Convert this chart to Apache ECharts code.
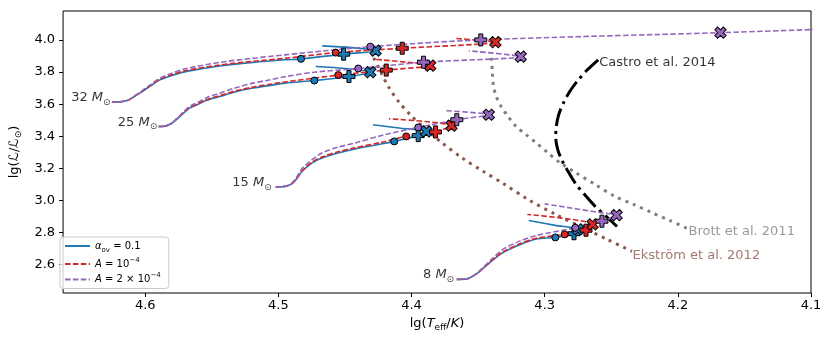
<!DOCTYPE html>
<html>
<head>
<meta charset="utf-8">
<script src="https://cdn.jsdelivr.net/npm/echarts@6/dist/echarts.min.js"></script>
<style>
  html, body { margin: 0; padding: 0; background: #fff; }
  #chart { width: 830px; height: 340px; }
</style>
</head>
<body>
<div id="chart"></div>
<script>
// 刻度
var xTicks = [4.1, 4.2, 4.3, 4.4, 4.5, 4.6];
var yTicks = [2.6, 2.8, 3.0, 3.2, 3.4, 3.6, 3.8, 4.0];

// 演化轨迹 [lg Teff, lg L]  (alpha_ov = 0.1)
var blue32 = [[4.625,3.613],[4.619,3.614],[4.613,3.624],[4.608,3.649],[4.602,3.680],[4.596,3.714],[4.589,3.751],[4.580,3.779],[4.569,3.804],[4.544,3.838],[4.519,3.860],[4.495,3.876],[4.483,3.882],[4.451,3.911],[4.427,3.933],[4.445,3.952],[4.467,3.963]];
var blue25 = [[4.590,3.461],[4.585,3.463],[4.580,3.481],[4.5755,3.512],[4.571,3.546],[4.567,3.574],[4.561,3.596],[4.554,3.624],[4.544,3.648],[4.532,3.677],[4.519,3.700],[4.506,3.717],[4.495,3.731],[4.473,3.747],[4.447,3.772],[4.431,3.799],[4.450,3.822],[4.472,3.834]];
var blue15 = [[4.502,3.085],[4.4975,3.086],[4.4953,3.088],[4.4908,3.099],[4.4871,3.127],[4.4821,3.182],[4.4747,3.234],[4.4673,3.265],[4.4552,3.296],[4.4425,3.321],[4.4227,3.352],[4.413,3.368],[4.395,3.404],[4.389,3.430],[4.408,3.450],[4.429,3.472]];
var blue8  = [[4.366,2.509],[4.3584,2.512],[4.3521,2.538],[4.3459,2.580],[4.3385,2.632],[4.3311,2.677],[4.3187,2.725],[4.3063,2.760],[4.292,2.770],[4.278,2.793],[4.275,2.820],[4.292,2.845],[4.312,2.876]];
// A = 1e-4
var red32 = [[4.625,3.613],[4.619,3.614],[4.613,3.624],[4.608,3.650],[4.602,3.682],[4.596,3.717],[4.589,3.755],[4.580,3.784],[4.569,3.810],[4.544,3.844],[4.519,3.867],[4.495,3.885],[4.457,3.921],[4.407,3.948],[4.337,3.986],[4.367,4.009]];
var red25 = [[4.590,3.461],[4.585,3.463],[4.580,3.482],[4.5755,3.514],[4.571,3.549],[4.567,3.577],[4.561,3.600],[4.554,3.628],[4.544,3.653],[4.532,3.683],[4.519,3.706],[4.506,3.724],[4.495,3.738],[4.455,3.781],[4.419,3.812],[4.386,3.840],[4.429,3.880]];
var red15 = [[4.502,3.085],[4.4975,3.086],[4.4953,3.088],[4.4908,3.100],[4.4871,3.129],[4.4821,3.185],[4.4747,3.239],[4.4673,3.271],[4.4552,3.303],[4.4425,3.328],[4.4227,3.362],[4.404,3.399],[4.382,3.427],[4.370,3.466],[4.417,3.509]];
var red8  = [[4.366,2.509],[4.3584,2.512],[4.3521,2.539],[4.3459,2.582],[4.3385,2.635],[4.3311,2.681],[4.3187,2.730],[4.3063,2.765],[4.285,2.789],[4.269,2.815],[4.264,2.851],[4.313,2.913]];
// A = 2e-4
var purple32 = [[4.625,3.613],[4.619,3.614],[4.613,3.625],[4.608,3.652],[4.602,3.686],[4.596,3.722],[4.589,3.762],[4.580,3.793],[4.569,3.822],[4.544,3.860],[4.519,3.886],[4.495,3.907],[4.465,3.932],[4.431,3.958],[4.348,4.000],[4.168,4.045],[4.09,4.067]];
var purple25 = [[4.590,3.461],[4.585,3.463],[4.580,3.483],[4.5755,3.517],[4.571,3.554],[4.567,3.584],[4.561,3.609],[4.554,3.640],[4.544,3.668],[4.532,3.702],[4.519,3.731],[4.506,3.752],[4.495,3.771],[4.473,3.799],[4.440,3.822],[4.391,3.861],[4.318,3.896],[4.357,3.932]];
var purple15 = [[4.502,3.085],[4.4975,3.086],[4.4953,3.088],[4.4908,3.102],[4.4871,3.135],[4.4821,3.200],[4.4747,3.254],[4.4673,3.296],[4.4552,3.332],[4.4425,3.358],[4.4202,3.410],[4.395,3.455],[4.366,3.503],[4.342,3.534],[4.374,3.559]];
var purple8  = [[4.366,2.509],[4.3584,2.512],[4.3521,2.540],[4.3459,2.586],[4.3385,2.645],[4.3311,2.697],[4.3187,2.747],[4.3063,2.782],[4.277,2.830],[4.257,2.871],[4.246,2.909],[4.257,2.923],[4.300,2.979]];

// 标记点
var blueCircles = [[4.483,3.882],[4.473,3.747],[4.413,3.368],[4.292,2.770]];
var bluePluses  = [[4.451,3.911],[4.447,3.772],[4.395,3.404],[4.278,2.793]];
var blueCrosses = [[4.427,3.933],[4.431,3.799],[4.389,3.430],[4.275,2.820]];
var redCircles  = [[4.457,3.921],[4.455,3.781],[4.404,3.399],[4.285,2.789]];
var redPluses   = [[4.407,3.948],[4.419,3.812],[4.382,3.427],[4.269,2.815]];
var redCrosses  = [[4.337,3.986],[4.386,3.840],[4.370,3.466],[4.264,2.851]];
var purpleCircles = [[4.431,3.958],[4.440,3.822],[4.395,3.455],[4.277,2.830]];
var purplePluses  = [[4.348,4.000],[4.391,3.861],[4.366,3.503],[4.257,2.871]];
var purpleCrosses = [[4.168,4.045],[4.318,3.896],[4.342,3.534],[4.246,2.909]];

// 文献曲线
var castroLine = [[4.2598,3.876],[4.2679,3.814],[4.2754,3.745],[4.2813,3.677],[4.2858,3.609],[4.2895,3.534],[4.2913,3.460],[4.2917,3.391],[4.2902,3.317],[4.2873,3.255],[4.2828,3.186],[4.2769,3.106],[4.2694,3.031],[4.262,2.963],[4.2538,2.901],[4.2457,2.838]];
var brottLine = [[4.3400,3.888],[4.3393,3.801],[4.3385,3.714],[4.3363,3.646],[4.3326,3.584],[4.3274,3.522],[4.3214,3.460],[4.314,3.410],[4.3066,3.360],[4.2977,3.298],[4.2887,3.236],[4.2769,3.174],[4.262,3.099],[4.2471,3.025],[4.233,2.975],[4.2197,2.925],[4.2063,2.876],[4.1929,2.826]];
var ekstromLine = [[4.4284,3.888],[4.4232,3.801],[4.4173,3.708],[4.4091,3.609],[4.4002,3.528],[4.3905,3.453],[4.3772,3.360],[4.3623,3.267],[4.3459,3.180],[4.3311,3.106],[4.3125,3.006],[4.2917,2.913],[4.2717,2.832],[4.2531,2.758],[4.2345,2.683]];

// 文字标签
var massNames = ['32', '25', '15', '8'];
var massLabelPos = [[4.626,3.639],[4.591,3.486],[4.505,3.110],[4.368,2.536]];
var refNames = ['Castro et al. 2014', 'Brott et al. 2011', 'Ekström et al. 2012'];
var refLabelPos = [[4.259,3.857],[4.192,2.806],[4.234,2.657]];

var plusPath = 'path://M-1,-3L1,-3L1,-1L3,-1L3,1L1,1L1,3L-1,3L-1,1L-3,1L-3,-1L-1,-1Z';
var FONT = 'DejaVu Sans';

var chart = echarts.init(document.getElementById('chart'));

var models = [
  { name: 'ov', color: '#1f77b4', dash: 'solid', tracks: [blue32, blue25, blue15, blue8], circles: blueCircles, pluses: bluePluses, crosses: blueCrosses },
  { name: 'A1', color: '#d62728', dash: [5.5, 2.4], tracks: [red32, red25, red15, red8], circles: redCircles, pluses: redPluses, crosses: redCrosses },
  { name: 'A2', color: '#9467bd', dash: [5.5, 2.4], tracks: [purple32, purple25, purple15, purple8], circles: purpleCircles, pluses: purplePluses, crosses: purpleCrosses }
];
var legendText = {
  ov: '{i|α}{sub|ov}{t| = 0.1}',
  A1: '{i|A}{t| = 10}{sup|−4}',
  A2: '{i|A}{t| = 2 × 10}{sup|−4}'
};

var series = [];

// 文献曲线
var refs = [
  { data: ekstromLine, color: '#8c564b', dash: [3, 5], width: 3 },
  { data: brottLine, color: '#7f7f7f', dash: [3, 5], width: 3 },
  { data: castroLine, color: '#000', dash: [18, 5, 3, 5], width: 3 }
];
refs.forEach(function (r) {
  series.push({
    type: 'line', data: r.data, smooth: 0.3, symbol: 'none', silent: true, z: 2,
    lineStyle: { color: r.color, width: r.width, type: r.dash, cap: 'butt' }
  });
});

// 轨迹
models.forEach(function (m) {
  m.tracks.forEach(function (t) {
    series.push({
      name: m.name, type: 'line', data: t, smooth: 0.3, symbol: 'none', showSymbol: false, silent: true, z: 3,
      color: m.color,
      lineStyle: { color: m.color, width: 1.6, type: m.dash }
    });
  });
});

// 标记
models.forEach(function (m) {
  var st = { color: m.color, borderColor: '#000', borderWidth: 1, opacity: 1 };
  series.push({ name: m.name + 'c', type: 'scatter', data: m.circles, symbol: 'circle', symbolSize: 7, itemStyle: st, z: 5, silent: true });
  series.push({ name: m.name + 'p', type: 'scatter', data: m.pluses, symbol: plusPath, symbolSize: 12, itemStyle: st, z: 5, silent: true });
  series.push({ name: m.name + 'x', type: 'scatter', data: m.crosses, symbol: plusPath, symbolRotate: 45, symbolSize: 12, itemStyle: st, z: 5, silent: true });
});

// 质量标签
series.push({
  type: 'scatter', symbolSize: 0, silent: true, z: 6,
  data: massLabelPos.map(function (p, i) { return { value: p, name: massNames[i] }; }),
  label: {
    show: true, position: 'left', distance: 0,
    formatter: function (p) { return '{t|' + p.name + ' }{m|M}{s|⊙}'; },
    rich: {
      t: { fontFamily: FONT, fontSize: 13, color: '#000', lineHeight: 18 },
      m: { fontFamily: FONT, fontSize: 13, fontStyle: 'italic', color: '#000', lineHeight: 18 },
      s: { fontFamily: FONT, fontSize: 9, color: '#000', lineHeight: 9, verticalAlign: 'bottom' }
    }
  }
});

// 文献标签
var refColors = ['#000', '#7f7f7f', '#8c564b'];
refNames.forEach(function (n, i) {
  series.push({
    type: 'scatter', symbolSize: 0, silent: true, z: 6,
    data: [{ value: refLabelPos[i], name: n }],
    label: { show: true, position: 'right', distance: 0, formatter: '{b}', fontFamily: FONT, fontSize: 13, color: refColors[i] }
  });
});

var option = {
  animation: false,
  backgroundColor: '#fff',
  grid: { left: 55, right: 19, top: 11, bottom: 47, show: true, borderColor: '#000', borderWidth: 1, containLabel: false },
  legend: {
    data: ['ov', 'A1', 'A2'],
    orient: 'vertical', left: 60, top: 237,
    itemWidth: 25, itemHeight: 10, itemGap: 3,
    padding: [4, 8, 4, 4],
    borderColor: '#ccc', borderWidth: 1, borderRadius: 3,
    backgroundColor: 'rgba(255,255,255,0.8)',
    selectedMode: false,
    itemStyle: { opacity: 0, borderWidth: 0 },
    formatter: function (n) { return legendText[n]; },
    textStyle: {
      fontFamily: FONT, fontSize: 10, color: '#000',
      rich: {
        t: { fontFamily: FONT, fontSize: 10, color: '#000', lineHeight: 15 },
        i: { fontFamily: FONT, fontSize: 10, fontStyle: 'italic', color: '#000', lineHeight: 15 },
        sub: { fontFamily: FONT, fontSize: 7, color: '#000', lineHeight: 8, verticalAlign: 'bottom' },
        sup: { fontFamily: FONT, fontSize: 7, color: '#000', lineHeight: 8, verticalAlign: 'top' }
      }
    }
  },
  xAxis: {
    type: 'value', inverse: true, min: 4.1, max: 4.6617,
    splitLine: { show: false },
    axisLine: { show: false },
    axisTick: { show: true, length: 4, customValues: xTicks, lineStyle: { color: '#000' } },
    axisLabel: { customValues: xTicks, fontFamily: FONT, fontSize: 13, color: '#000', margin: 6, formatter: function (v) { return v.toFixed(1); } },
    name: '{t|lg(}{i|T}{s|eff}{t|/}{i|K}{t|)}',
    nameLocation: 'middle', nameGap: 20,
    nameTextStyle: {
      rich: {
        t: { fontFamily: FONT, fontSize: 13, color: '#000', lineHeight: 18 },
        i: { fontFamily: FONT, fontSize: 13, fontStyle: 'italic', color: '#000', lineHeight: 18 },
        s: { fontFamily: FONT, fontSize: 9, color: '#000', lineHeight: 9, verticalAlign: 'bottom' }
      }
    }
  },
  yAxis: {
    type: 'value', min: 2.424, max: 4.18,
    splitLine: { show: false },
    axisLine: { show: false },
    axisTick: { show: true, length: 4, customValues: yTicks, lineStyle: { color: '#000' } },
    axisLabel: { customValues: yTicks, fontFamily: FONT, fontSize: 13, color: '#000', margin: 8, formatter: function (v) { return v.toFixed(1); } },
    name: '{t|lg(}{c|ℒ}{t|/}{c|ℒ}{s|⊙}{t|)}',
    nameLocation: 'middle', nameGap: 33,
    nameTextStyle: {
      rich: {
        t: { fontFamily: FONT, fontSize: 13, color: '#000', lineHeight: 18 },
        c: { fontFamily: FONT, fontSize: 13, fontStyle: 'italic', color: '#000', lineHeight: 18 },
        s: { fontFamily: FONT, fontSize: 9, color: '#000', lineHeight: 9, verticalAlign: 'bottom' }
      }
    }
  },
  series: series
};

chart.setOption(option);
</script>
</body>
</html>
